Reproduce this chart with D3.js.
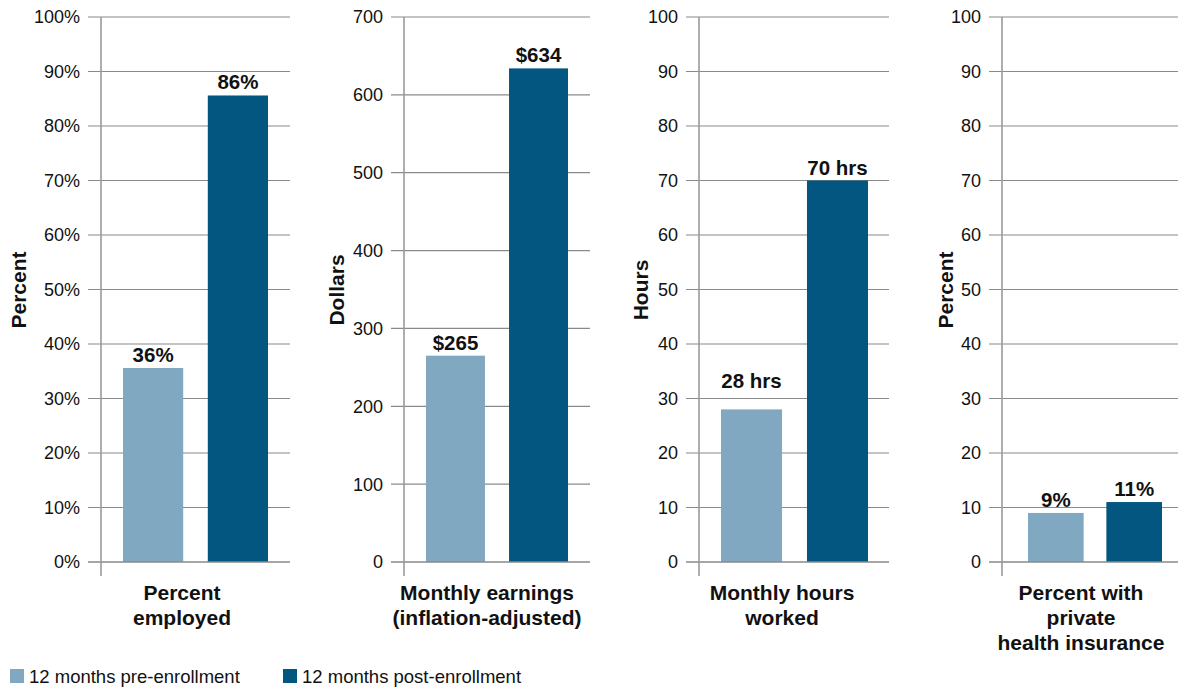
<!DOCTYPE html>
<html>
<head>
<meta charset="utf-8">
<script src="https://cdn.jsdelivr.net/npm/d3@7"></script>
<style>
  body { margin: 0; background: #fff; }
  svg { display: block; font-family: "Liberation Sans", Arial, Helvetica, sans-serif; }
</style>
</head>
<body>
<svg id="chart" width="1178" height="688"></svg>
<script>
const seriesNames = ["12 months pre-enrollment", "12 months post-enrollment"];
const seriesColors = ["#80a8c0", "#02567f"];

const panelTitles = [
  ["Percent", "employed"],
  ["Monthly earnings", "(inflation-adjusted)"],
  ["Monthly hours", "worked"],
  ["Percent with", "private", "health insurance"]
];
const axisTitles = ["Percent", "Dollars", "Hours", "Percent"];
const preValues = [35.6, 265, 28, 9];
const postValues = [85.6, 634, 70, 11];
const preLabels = ["36%", "$265", "28 hrs", "9%"];
const postLabels = ["86%", "$634", "70 hrs", "11%"];
const yMax = [100, 700, 100, 100];
const tickStep = [10, 100, 10, 10];
const tickSuffix = ["%", "", "", ""];

// layout (pixels) for each panel
const axisX = [101, 404, 699, 1002];
const gridRight = [290, 590, 889, 1178];
const barsRight = [268, 568, 868, 1162];
const titleX = [26, 344, 648, 953];
const labelX = [182, 487, 782, 1081];
const yBottom = 562, yTop = 17;

const svg = d3.select("#chart");

axisTitles.forEach((t, i) => {
  const g = svg.append("g");
  const y = d3.scaleLinear().domain([0, yMax[i]]).range([yBottom, yTop]);
  const barL = axisX[i] + (i === 3 ? 26 : 22);
  const x = d3.scaleBand().domain([0, 1]).range([barL, barsRight[i]]).paddingInner(0.29);
  const ticks = d3.range(0, yMax[i] + tickStep[i] / 2, tickStep[i]);

  // gridlines (behind bars)
  g.selectAll("line.grid")
    .data(ticks.filter(d => d > 0))
    .enter().append("line")
    .attr("x1", axisX[i] - 13).attr("x2", gridRight[i])
    .attr("y1", d => y(d)).attr("y2", d => y(d))
    .attr("stroke", "#8a8a8a").attr("stroke-width", 1.2);

  // bars
  const vals = [preValues[i], postValues[i]];
  const labs = [preLabels[i], postLabels[i]];
  g.selectAll("rect")
    .data(vals)
    .enter().append("rect")
    .attr("x", (d, j) => x(j))
    .attr("width", x.bandwidth())
    .attr("y", d => y(d))
    .attr("height", d => yBottom - y(d))
    .attr("fill", (d, j) => seriesColors[j]);

  // zero line on top of bars
  g.append("line")
    .attr("x1", axisX[i] - 13).attr("x2", gridRight[i])
    .attr("y1", y(0)).attr("y2", y(0))
    .attr("stroke", "#8a8a8a").attr("stroke-width", 1.5);

  // vertical axis line
  g.append("line")
    .attr("x1", axisX[i]).attr("x2", axisX[i])
    .attr("y1", yTop).attr("y2", 576)
    .attr("stroke", "#9a9a9a").attr("stroke-width", 1.6);

  // tick labels
  g.selectAll("text.tick")
    .data(ticks)
    .enter().append("text")
    .attr("x", axisX[i] - 21)
    .attr("y", d => y(d))
    .attr("dy", "0.36em")
    .attr("text-anchor", "end")
    .attr("font-size", 18)
    .attr("fill", "#111")
    .text(d => d + tickSuffix[i]);

  // value labels
  g.selectAll("text.val")
    .data(vals)
    .enter().append("text")
    .attr("x", (d, j) => x(j) + x.bandwidth() / 2)
    .attr("y", (d, j) => y(d) - (labs[j] === "28 hrs" ? 21 : 6))
    .attr("text-anchor", "middle")
    .attr("font-size", 20.5)
    .attr("font-weight", "bold")
    .attr("fill", "#111")
    .text((d, j) => labs[j]);

  // y-axis title
  g.append("text")
    .attr("transform", `translate(${titleX[i]},290) rotate(-90)`)
    .attr("text-anchor", "middle")
    .attr("font-size", 21)
    .attr("font-weight", "bold")
    .attr("fill", "#111")
    .text(t);

  // category label
  g.selectAll("text.cat")
    .data(panelTitles[i])
    .enter().append("text")
    .attr("x", labelX[i])
    .attr("y", (d, k) => 600 + k * 25)
    .attr("text-anchor", "middle")
    .attr("font-size", 21)
    .attr("font-weight", "bold")
    .attr("fill", "#111")
    .text(d => d);
});

// legend
const legendX = [10, 283];
const legend = svg.selectAll("g.legend")
  .data(seriesNames)
  .enter().append("g")
  .attr("transform", (d, j) => `translate(${legendX[j]},669)`);
legend.append("rect")
  .attr("width", 14).attr("height", 14)
  .attr("fill", (d, j) => seriesColors[j]);
legend.append("text")
  .attr("x", 19).attr("y", 14)
  .attr("font-size", 18.5)
  .attr("fill", "#111")
  .text(d => d);
</script>
</body>
</html>
